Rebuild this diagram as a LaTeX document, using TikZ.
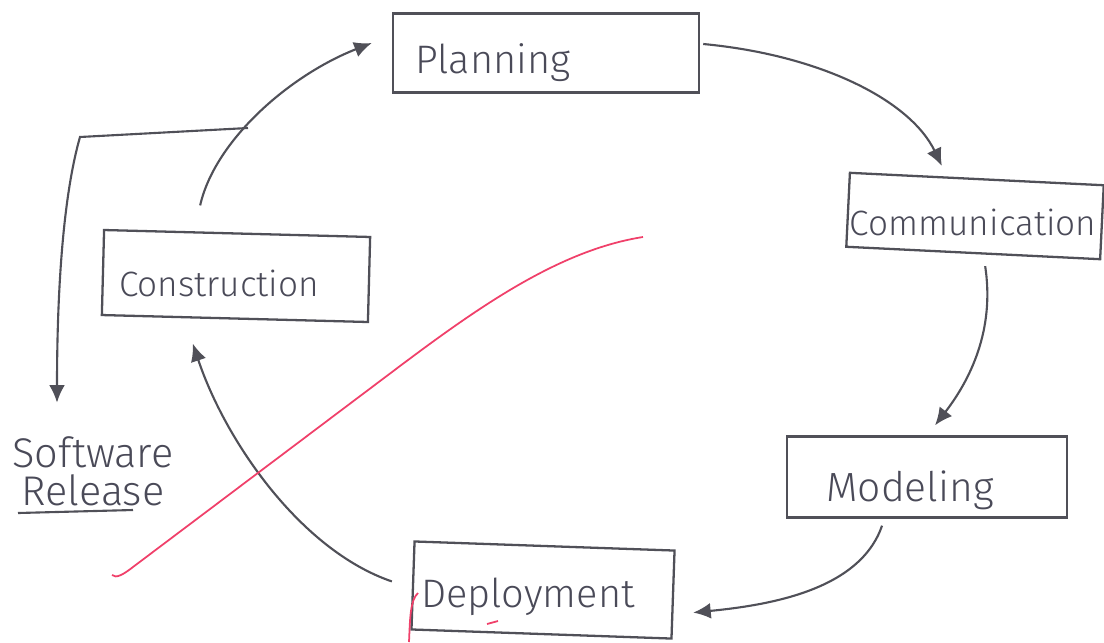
\documentclass[tikz,border=0pt]{standalone}
\usepackage{fontspec}
\newfontfamily\hand{Fira Sans Light}
\usetikzlibrary{arrows.meta,calc}
\definecolor{pencil}{HTML}{505058}
\definecolor{redpen}{HTML}{F0406A}
\definecolor{ink}{HTML}{4A4A58}
\begin{document}
\begin{tikzpicture}[x=0.01cm,y=-0.01cm,
  box/.style={draw=pencil, line width=0.65pt, rectangle, inner sep=0pt},
  lbl/.style={font=\hand\fontsize{10}{12}\selectfont, text=ink, inner sep=0pt},
  big/.style={font=\hand\fontsize{11.3}{13}\selectfont},
  flow/.style={draw=pencil, line width=0.6pt, -{Latex[length=5pt,width=4.5pt]}},
  red/.style={draw=redpen, line width=0.5pt}]
\path[use as bounding box, fill=white] (0,0) rectangle (1104,642);
\clip (0,0) rectangle (1104,642);
% boxes
\node[box, minimum width=3.06cm, minimum height=0.79cm] (plan) at (546,53) {};
\node[box, minimum width=2.54cm, minimum height=0.74cm, rotate=-2.8] (comm) at (975,216) {};
\node[box, minimum width=2.66cm, minimum height=0.85cm, rotate=-1.5] (cons) at (236,276) {};
\node[box, minimum width=2.80cm, minimum height=0.81cm] (model) at (927,477) {};
\node[box, minimum width=2.60cm, minimum height=0.88cm, rotate=-2] (deploy) at (543,590) {};
% labels
\node[lbl, big] (planT) at (493,63) {Planning};
\node[lbl] (commT) at (973,222) {Communication};
\node[lbl] (consT) at (219,283) {Construction};
\node[lbl, font=\hand\fontsize{11.6}{13}\selectfont] (modelT) at (910,490) {Modeling};
\node[lbl, big] (deployT) at (528,597) {Deployment};
\node[lbl, font=\hand\fontsize{11.8}{13}\selectfont] (swT) at (93,452) {Software};
\node[lbl, font=\hand\fontsize{11.8}{13}\selectfont] (relT) at (93,490) {Release};
\draw[pencil, line width=0.6pt] (18,513) -- (133,510);
% connectors
\coordinate (relstart) at (248,128);
\draw[flow] ($(cons.north)+(-37,-27)$) .. controls (215,140) and (290,75) .. ($(plan.west)+(-20,-10)$);
\draw[flow] ($(plan.east)+(3,-9)$) .. controls (820,55) and (910,100) .. ($(comm.north)+(-35,-12)$);
\draw[flow] ($(comm.south)+(12,12)$) .. controls (995,330) and (970,380) .. ($(model.north)+(8,-10)$);
\draw[flow] ($(model.south)+(-45,7)$) .. controls (860,590) and (770,605) .. ($(deploy.east)+(19,18)$);
\draw[flow] ($(deploy.west)+(-20,-4)$) .. controls (300,550) and (225,440) .. ($(cons.south)+(-42,24)$);
\draw[flow] (relstart) -- (80,137) .. controls (62,200) and (57,300) .. ($(swT.north)+(-36,-33)$);
% red pen strokes
\draw[red] (112,575) .. controls (116,579) and (124,574) .. (133,567) -- (400,366) .. controls (480,306) and (560,250) .. (643,237);
\draw[red] (418,593) .. controls (410,600) and (410,620) .. (409,642);
\draw[red] (487,624) -- (498,621);
\end{tikzpicture}
\end{document}
